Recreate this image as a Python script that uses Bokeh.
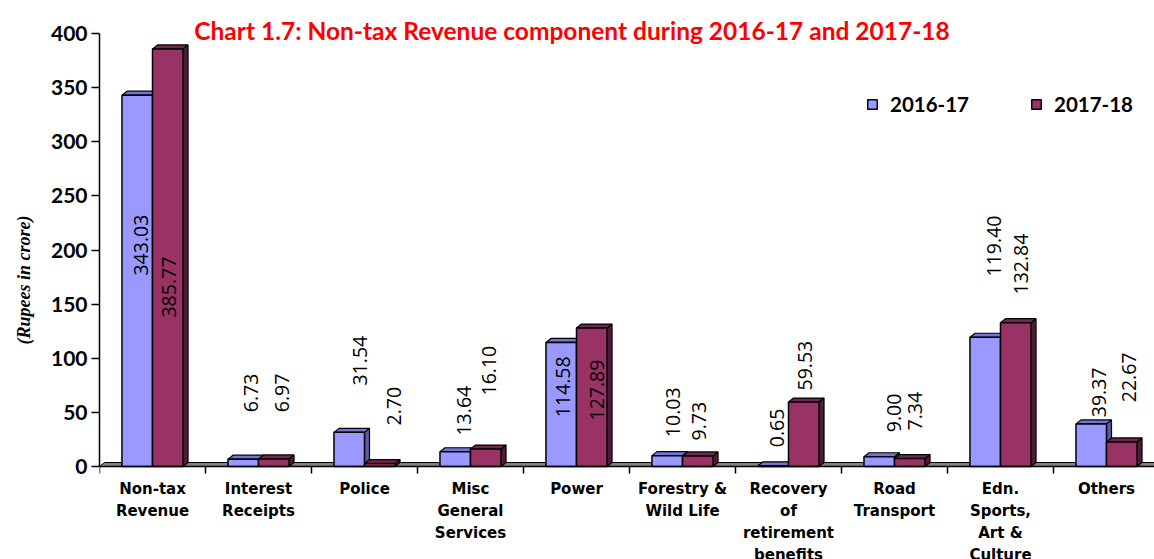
import numpy as np
from bokeh.plotting import figure
from bokeh.models import (Range1d, FixedTicker, Label, Legend, LegendItem,
                          ColumnDataSource, LinearAxis)
from bokeh.core.properties import value
from bokeh.embed import file_html
from bokeh.resources import INLINE

# ---------------- data ----------------
categories = ["Non-tax\nRevenue", "Interest\nReceipts", "Police",
              "Misc\nGeneral\nServices", "Power", "Forestry &\nWild Life",
              "Recovery\nof\nretirement\nbenefits", "Road\nTransport",
              "Edn.\nSports,\nArt &\nCulture", "Others"]
series_names = ["2016-17", "2017-18"]
values_2016 = [343.03, 6.73, 31.54, 13.64, 114.58, 10.03, 0.65, 9.00, 119.40, 39.37]
values_2017 = [385.77, 6.97, 2.70, 16.10, 127.89, 9.73, 59.53, 7.34, 132.84, 22.67]
y_ticks = [0, 50, 100, 150, 200, 250, 300, 350, 400]

# ---------------- layout (label placement) ----------------
lab_xoff_2016 = [0.387, 0.425, 0.462, 0.434, 0.377, 0.406, 0.396, 0.491, 0.434, 0.425]
lab_xoff_2017 = [0.651, 0.726, 0.774, 0.670, 0.698, 0.651, 0.660, 0.689, 0.689, 0.708]
lab_y_2016 = [176.4, 50.2, 74.8, 28.6, 45.5, 27.1, 17.8, 31.7, 175.5, 45.5]
lab_y_2017 = [137.6, 50.2, 37.9, 65.6, 42.5, 24.0, 70.2, 33.3, 158.9, 59.4]

# ---------------- styles ----------------
C_FRONT = ["#9999FF", "#993366"]
C_TOP = ["#7373D6", "#76264E"]
C_SIDE = ["#5A5AA6", "#4E1A34"]
BW = 0.288          # bar width in category units
DX = 5 / 106        # 3D depth, x
DY = 4 * 400 / 433  # 3D depth, y

n = len(categories)
idx = np.arange(n)
PX_PER_UNIT = 433 / 400

p = figure(width=1154, height=559,
           x_range=Range1d(0, 1055 / 106),
           y_range=Range1d(-(559 - 466) / PX_PER_UNIT, 466 / PX_PER_UNIT),
           output_backend="svg", toolbar_location=None,
           x_axis_type=None, y_axis_type=None,
           min_border_left=99, min_border_right=0,
           min_border_top=0, min_border_bottom=0)
p.outline_line_color = None
p.background_fill_color = "white"
p.border_fill_color = "white"
p.xgrid.visible = False
p.ygrid.visible = False

# floor
p.patch([0, 10.5, 10.5 + DX, DX], [0, 0, DY, DY],
        fill_color="#808080", line_color="black", line_width=1)

renderers = []
for k, (vals, offs) in enumerate([(values_2016, -BW / 2), (values_2017, BW / 2)]):
    centers = idx + 0.5 + offs
    tx, ty, sx, sy = [], [], [], []
    for c, v in zip(centers, vals):
        x0, x1 = c - BW / 2, c + BW / 2
        tx.append([x0, x1, x1 + DX, x0 + DX]); ty.append([v, v, v + DY, v + DY])
        sx.append([x1, x1 + DX, x1 + DX, x1]); sy.append([0, DY, v + DY, v])
    p.patches(sx, sy, fill_color=C_SIDE[k], line_color="black", line_width=1.2)
    p.patches(tx, ty, fill_color=C_TOP[k], line_color="black", line_width=1.2)
    r = p.vbar(x=centers, width=BW, top=vals, bottom=0,
               fill_color=C_FRONT[k], line_color="black", line_width=1.5)
    renderers.append(r)

# value labels
for vals, xoff, ly in [(values_2016, lab_xoff_2016, lab_y_2016),
                       (values_2017, lab_xoff_2017, lab_y_2017)]:
    src = ColumnDataSource(dict(x=idx + np.array(xoff), y=ly,
                                t=["%.2f" % v for v in vals]))
    p.text(x="x", y="y", text="t", source=src, angle=np.pi / 2,
           text_align="left", text_baseline="middle",
           text_font=value("Open Sans"), text_font_size="19.5px", text_color="black")

# axes
xaxis = LinearAxis(fixed_location=0, bounds=(0, 10))
xaxis.ticker = FixedTicker(ticks=list(idx + 0.5), minor_ticks=list(range(0, n + 1)))
xaxis.major_label_overrides = {float(i + 0.5): categories[i] for i in range(n)}
xaxis.major_tick_line_color = None
xaxis.minor_tick_out = 7
xaxis.minor_tick_in = 0
xaxis.minor_tick_line_color = "black"
xaxis.minor_tick_line_width = 1.5
xaxis.axis_line_color = "black"
xaxis.axis_line_width = 1.5
xaxis.major_label_text_font = "DejaVu Sans"
xaxis.major_label_text_font_style = "bold"
xaxis.major_label_text_font_size = "15px"
xaxis.major_label_text_line_height = 1.23
xaxis.major_label_standoff = 6
xaxis.major_label_text_color = "black"
p.add_layout(xaxis, "below")

yaxis = LinearAxis(bounds=(0, 400))
yaxis.ticker = FixedTicker(ticks=y_ticks)
yaxis.minor_tick_line_color = None
yaxis.major_tick_out = 8
yaxis.major_tick_in = 0
yaxis.major_tick_line_width = 1.5
yaxis.axis_line_width = 1.5
yaxis.major_label_text_font = "Lato"
yaxis.major_label_text_font_style = "bold"
yaxis.major_label_text_font_size = "21px"
yaxis.major_label_standoff = 4
yaxis.major_label_text_color = "black"
yaxis.axis_label = "(Rupees in crore)"
yaxis.axis_label_text_font = "Liberation Serif"
yaxis.axis_label_text_font_style = "bold italic"
yaxis.axis_label_text_font_size = "18px"
yaxis.axis_label_standoff = 14
yaxis.axis_label_text_color = "black"
p.add_layout(yaxis, "left")

# title
p.add_layout(Label(x=(571.5 - 99) / 106, y=(466 - 30) / PX_PER_UNIT,
                   text="Chart 1.7: Non-tax Revenue component during 2016-17 and 2017-18",
                   text_align="center", text_baseline="middle",
                   text_font="Lato", text_font_style="bold",
                   text_font_size="24.5px", text_color="#FF0000"))

# legend
legend = Legend(items=[LegendItem(label=series_names[0], renderers=[renderers[0]]),
                       LegendItem(label=series_names[1], renderers=[renderers[1]])],
                orientation="horizontal", location=(767, 443),
                padding=0, margin=0, spacing=61, label_standoff=12,
                glyph_width=12, glyph_height=12, label_height=20,
                border_line_color=None, background_fill_alpha=0,
                label_text_font="Lato", label_text_font_style="bold",
                label_text_font_size="20.5px", label_text_color="black")
p.add_layout(legend)

open("out.html", "w").write(file_html(p, INLINE))
